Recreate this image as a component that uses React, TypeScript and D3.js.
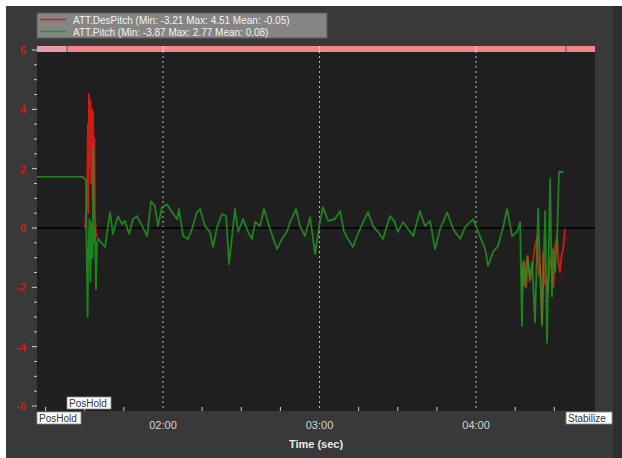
import React from "react";
import * as d3 from "d3";

const W = 622;
const H = 458;

// ATT.Pitch (green) — [time in seconds, degrees]
const pitchTime = [
  71.7, 89.3, 90.1, 90.5, 90.7, 91.1, 91.4, 91.8, 92.2, 92.6, 93.0, 93.3, 93.5, 93.9, 94.3, 94.7, 95.1,
  97.8, 99.7, 100.8, 102.7, 104.3, 105.4, 107.0, 108.5, 110.0, 112.0, 113.9, 115.4, 116.9, 118.1, 119.6,
  121.5, 123.5, 125.4, 126.1, 127.7, 129.6, 131.1, 133.0, 134.2, 136.1, 138.0, 139.2, 140.7, 142.6,
  144.2, 145.3, 146.5, 147.6, 148.8, 150.7, 152.6, 154.1, 155.3, 157.2, 158.7, 159.9, 161.0, 163.7,
  165.6, 167.5, 168.7, 171.0, 172.5, 174.4, 176.4, 178.3, 179.8, 181.3, 183.3, 185.9, 187.9, 189.4,
  190.9, 192.8, 194.4, 196.7, 198.6, 200.5, 202.4, 204.3, 207.0, 208.6, 210.1, 212.0, 213.9, 215.9,
  218.5, 220.4, 222.4, 224.3, 226.2, 228.9, 231.2, 233.9, 235.8, 238.9, 240.8, 243.5, 244.6, 246.5,
  248.4, 250.4, 251.9, 253.8, 255.7, 256.9, 257.6, 258.0, 258.8, 259.6, 260.7, 261.5, 262.6, 263.8,
  265.3, 266.5, 266.8, 267.2, 268.4, 269.1, 269.5, 270.3, 271.1, 271.8, 273.0, 273.4, 279.9, 285.6,
];
const pitchValue = [
  1.72, 1.72, 1.65, 1.6, -0.5, -3.0, -0.8, 0.3, -1.8, 0.2, -1.0, 2.77, -0.5, 0.0, -2.06, -0.5, -0.37,
  -0.64, 0.54, -0.2, 0.4, 0.13, 0.24, -0.2, 0.3, 0.4, 0.07, -0.27, 0.9, 0.74, 0.07, 0.7,
  0.8, 0.53, 0.3, 0.64, -0.27, -0.37, -0.03, 0.53, 0.64, 0.07, -0.13, -0.64, 0.03, 0.47,
  0.4, -1.22, -0.27, 0.64, -0.13, 0.3, -0.13, -0.37, 0.2, 0.07, 0.64, 0.3, -0.03, -0.71,
  -0.37, -0.13, 0.2, 0.64, 0.07, -0.27, 0.37, -0.88, 0.03, 0.7, 0.24, 0.3, 0.57, -0.13,
  -0.37, -0.64, -0.27, 0.2, 0.53, 0.07, -0.13, -0.37, 0.4, 0.24, -0.13, 0.2, -0.03, -0.27,
  0.57, 0.07, 0.24, -0.71, -0.03, 0.53, -0.03, -0.37, 0.03, 0.3, -0.13, -0.71, -1.28, -0.81,
  -0.61, 0.03, 0.64, -0.27, -0.13, 0.2, -3.3, -1.15, -1.96, -0.95, -1.72, -1.15, -3.18, 0.64,
  -3.3, 0.57, -1.28, -3.87, 1.66, -2.3, -0.71, -1.49, -0.27, 1.89, 1.89, 1.85,
];

// ATT.DesPitch (red) — only where it departs from the pitch trace
const desTime = [
  90.1, 90.9, 91.2, 91.4, 91.6, 92.0, 92.2, 92.4, 92.8, 93.0, 93.2, 93.5, 93.7, 93.9, 94.3, 94.7,
  NaN,
  257.6, 257.8, 258.4, 258.8, 259.3, 259.9, 260.6, 261.5, 262.0, 262.6, 263.4, 264.0, 264.5, 265.3, 265.7, 266.3,
  267.2, 267.6, 268.3, 269.1, 269.7, 270.3, 271.1, 271.6, 272.2, 272.8, 273.4, 274.1,
];
const desValue = [
  0.0, 1.0, 3.5, 0.5, 4.51, 2.0, 4.3, 1.5, 4.0, 1.0, 3.9, 2.0, 3.0, 0.5, -0.3, -0.2,
  NaN,
  -1.28, -2.06, -1.1, -1.38, -2.0, -0.95, -1.8, -1.49, -1.0, -0.61, -0.3, -1.6, -1.28, -3.21, -0.81, -1.9,
  -1.72, -2.16, -1.0, -1.38, -2.0, -0.61, -0.3, -1.2, -1.49, -0.9, -0.71, -0.03,
];

const legendLabels = [
  "ATT.DesPitch  (Min: -3.21 Max: 4.51 Mean: -0.05)",
  "ATT.Pitch  (Min: -3.87 Max: 2.77 Mean: 0.08)",
];
const legendColors = ["#e01a1a", "#1f9a1f"];

const yTicks = [-6, -4, -2, 0, 2, 4, 6];
const xMajorTicks = [120, 180, 240];
const xMajorLabels = ["02:00", "03:00", "04:00"];

const modeTimes = [71.7, 83.2, 274.5];
const modeNames = ["PosHold", "PosHold", "Stabilize"];

export default function App() {
  const plotL = 37, plotR = 595, plotT = 46, plotB = 411;
  const x = d3.scaleLinear().domain([71.7, 285.6]).range([plotL, plotR]);
  const y = d3.scaleLinear().domain([-6, 6]).range([406, 50]);

  const pitchPts = pitchTime.map((t, i) => [t, pitchValue[i]] as [number, number]);
  const desPts = desTime.map((t, i) => [t, desValue[i]] as [number, number]);

  const line = d3
    .line<[number, number]>()
    .defined((d) => !isNaN(d[0]) && !isNaN(d[1]))
    .x((d) => x(d[0]))
    .y((d) => y(d[1]));

  const minorY = d3.range(-6, 6.01, 0.5);
  const minorX = d3.range(75, 285, 15).filter((t) => !xMajorTicks.includes(t));

  const modeSegs = modeTimes.map((t, i) => ({
    x0: x(t),
    x1: i + 1 < modeTimes.length ? x(modeTimes[i + 1]) : plotR,
  }));

  const font = "'Liberation Sans', Arial, sans-serif";

  return (
    <svg width={W} height={H} style={{ position: "absolute", left: 0, top: 0 }} fontFamily={font}>
      <rect x={0} y={0} width={W} height={H} fill="#ffffff" />
      <rect x={6} y={6} width={W - 6} height={H - 6} fill="#393939" />
      <rect x={613} y={6} width={W - 613} height={H - 6} fill="#2e2e2e" />

      {/* plot background */}
      <rect x={plotL} y={plotT} width={plotR - plotL} height={plotB - plotT} fill="#1f1f1f" />

      {/* vertical dotted grid */}
      {xMajorTicks.map((t) => (
        <line key={"g" + t} x1={x(t)} x2={x(t)} y1={plotT} y2={plotB} stroke="#b8b8b8" strokeWidth={1} strokeDasharray="2,3" />
      ))}

      {/* zero line */}
      <line x1={plotL} x2={plotR} y1={y(0)} y2={y(0)} stroke="#000000" strokeWidth={1.5} />

      {/* data */}
      <path d={line(desPts) || ""} fill="none" stroke="#e01a1a" strokeWidth={1.8} strokeOpacity={0.9} strokeLinejoin="round" />
      <path d={line(pitchPts) || ""} fill="none" stroke="#1f9a1f" strokeWidth={1.8} strokeOpacity={0.8} strokeLinejoin="round" />

      {/* mode bar */}
      {modeSegs.map((s, i) => (
        <rect key={"m" + i} x={s.x0} y={46} width={s.x1 - s.x0} height={6} fill={i === 0 ? "#e99aab" : "#f4858a"} />
      ))}
      {modeSegs.slice(1).map((s, i) => (
        <line key={"md" + i} x1={s.x0} x2={s.x0} y1={46} y2={52} stroke="#555" strokeWidth={1} />
      ))}
      {xMajorTicks.map((t) => (
        <line key={"mg" + t} x1={x(t)} x2={x(t)} y1={46} y2={52} stroke="#f4c8c8" strokeWidth={1} />
      ))}

      {/* y axis ticks */}
      {minorY.map((v) => {
        const major = Math.abs(v % 2) < 1e-6;
        return (
          <line key={"yt" + v} x1={major ? 32 : 34} x2={37} y1={y(v)} y2={y(v)} stroke="#cfcfcf" strokeWidth={1} />
        );
      })}
      {yTicks.map((v) => (
        <text key={"yl" + v} x={26} y={y(v) + 4} textAnchor="end" fontSize={11} fontWeight="bold" fill="#cc1c1c">
          {v}
        </text>
      ))}

      {/* x axis ticks */}
      {minorX.map((t) => (
        <line key={"xt" + t} x1={x(t)} x2={x(t)} y1={407} y2={411} stroke="#cfcfcf" strokeWidth={1} />
      ))}
      {xMajorTicks.map((t, i) => (
        <text key={"xl" + t} x={x(t)} y={429} textAnchor="middle" fontSize={11} fill="#d4d4d4">
          {xMajorLabels[i]}
        </text>
      ))}
      <text x={316} y={448} textAnchor="middle" fontSize={11} fontWeight="bold" fill="#e8e8e8">
        Time (sec)
      </text>

      {/* mode labels */}
      {modeNames.map((name, i) => {
        const bx = x(modeTimes[i]);
        const by = i === 1 ? 397 : 412;
        const bw = name === "Stabilize" ? 46 : 44;
        return (
          <g key={"ml" + i}>
            <rect x={bx} y={by} width={bw} height={12} fill="#ffffff" stroke="#888" strokeWidth={0.8} />
            <text x={bx + 2} y={by + 9.5} fontSize={10} fill="#333">
              {name}
            </text>
          </g>
        );
      })}

      {/* legend */}
      <rect x={37} y={13} width={290} height={25} fill="#858585" stroke="#5a5a5a" strokeWidth={1} />
      {legendLabels.map((lab, i) => (
        <g key={"lg" + i}>
          <line x1={40} x2={66} y1={19.5 + i * 12} y2={19.5 + i * 12} stroke={legendColors[i]} strokeWidth={1.5} />
          <text x={73} y={23.5 + i * 12} fontSize={10} fill="#f2f2f2">
            {lab}
          </text>
        </g>
      ))}
    </svg>
  );
}
